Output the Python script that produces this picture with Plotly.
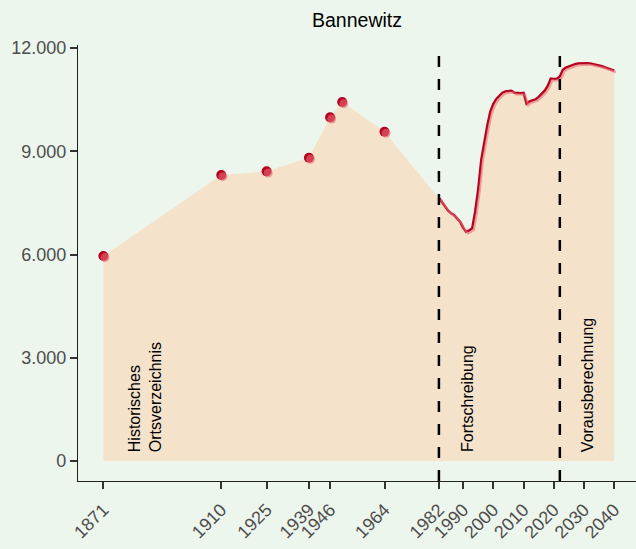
import plotly.graph_objects as go

# ---- data ----
hist_years = [1871, 1910, 1925, 1939, 1946, 1950, 1964]
hist_pop = [5956, 8309, 8416, 8812, 9985, 10430, 9567]

fort_years = list(range(1982, 2023))
fort_pop = [7650, 7520, 7420, 7280, 7200, 7150, 7050, 6950, 6780, 6660,
            6700, 6760, 7250, 7900, 8750, 9300, 9750, 10150, 10380, 10520,
            10600, 10700, 10740, 10750, 10760, 10700, 10690, 10690, 10700, 10380,
            10450, 10480, 10510, 10580, 10680, 10760, 10900, 11110, 11100, 11110,
            11170]

proj_years = list(range(2023, 2041))
proj_pop = [11370, 11430, 11470, 11510, 11530, 11550, 11560, 11565, 11560, 11553,
            11535, 11515, 11495, 11470, 11440, 11410, 11375, 11345]

x_tick_vals = [1871, 1910, 1925, 1939, 1946, 1964, 1982, 1990, 2000, 2010, 2020, 2030, 2040]
x_tick_text = [str(v) for v in x_tick_vals]
y_tick_vals = [0, 3000, 6000, 9000, 12000]
y_tick_text = ["0", "3.000", "6.000", "9.000", "12.000"]

period_breaks = [1982, 2022]
period_labels = ["Historisches<br>Ortsverzeichnis", "Fortschreibung", "Vorausberechnung"]
period_label_x = [1884.8, 1991.4, 2031]

title = "Bannewitz"

# ---- styling ----
BG = "#edf6ec"
FILL = "#f5e2cb"
DARK = "#b5001e"
LIGHT = "rgba(232,110,118,0.6)"
FONT = "Liberation Sans, Arial, sans-serif"

x_range = [1862.6, 2047.2]
y_range = [-581, 12087]
px_per_year = 3.024
px_per_unit = 0.034417
dx = 1.6 / px_per_year
dy = 1.6 / px_per_unit

all_years = hist_years + fort_years + proj_years
all_pop = hist_pop + fort_pop + proj_pop
line_years = fort_years + proj_years
line_pop = fort_pop + proj_pop

fig = go.Figure()

# area
fig.add_trace(go.Scatter(x=all_years, y=all_pop, mode="lines", fill="tozeroy",
                         fillcolor=FILL, line=dict(width=0, color=FILL),
                         hoverinfo="skip", showlegend=False))

# dark line
fig.add_trace(go.Scatter(x=line_years, y=line_pop, mode="lines",
                         line=dict(color=DARK, width=2.4),
                         showlegend=False))
# light shadow line (shifted axes)
fig.add_trace(go.Scatter(x=line_years, y=line_pop, mode="lines",
                         line=dict(color=LIGHT, width=2.2),
                         xaxis="x2", yaxis="y2", showlegend=False))

# points
fig.add_trace(go.Scatter(x=hist_years, y=hist_pop, mode="markers",
                         marker=dict(color=DARK, size=10, line=dict(width=0)),
                         showlegend=False))
fig.add_trace(go.Scatter(x=hist_years, y=hist_pop, mode="markers",
                         marker=dict(color=LIGHT, size=9, line=dict(width=0)),
                         xaxis="x2", yaxis="y2", showlegend=False))

# dashed period lines
for b in period_breaks:
    fig.add_shape(type="line", xref="x", yref="paper", x0=b, x1=b, y0=0, y1=1,
                  line=dict(color="black", width=2.5, dash="11px,12px"), layer="above")

# period labels
for lx, lt in zip(period_label_x, period_labels):
    fig.add_annotation(x=lx, y=200, xref="x", yref="y", text=lt, textangle=-90,
                       showarrow=False, xanchor="center", yanchor="bottom", align="left",
                       font=dict(family=FONT, size=16, color="black"))

axis_common = dict(showgrid=False, zeroline=False, showline=True, linecolor="#222222",
                   linewidth=1.3, ticks="outside", ticklen=7, tickwidth=2,
                   tickcolor="#333333", tickfont=dict(family=FONT, size=18, color="#4d4d4d"),
                   automargin=False, fixedrange=True)

fig.update_layout(
    width=636, height=549,
    margin=dict(l=78, r=0, t=45, b=68),
    paper_bgcolor=BG, plot_bgcolor=BG,
    title=dict(text=title, x=0.5, xref="paper", y=1 - 20.5 / 549, yref="container",
               xanchor="center", yanchor="middle",
               font=dict(family=FONT, size=19.5, color="black")),
    xaxis=dict(range=x_range, tickvals=x_tick_vals, ticktext=x_tick_text,
               tickangle=-45, ticklabelstandoff=3, **axis_common),
    yaxis=dict(range=y_range, tickvals=y_tick_vals, ticktext=y_tick_text, **axis_common),
    xaxis2=dict(range=[x_range[0] - dx, x_range[1] - dx], overlaying="x", visible=False,
                fixedrange=True),
    yaxis2=dict(range=[y_range[0] + dy, y_range[1] + dy], overlaying="y", visible=False,
                fixedrange=True),
    showlegend=False,
)

post = ("document.body.style.margin='0';document.body.style.padding='0';"
        "document.body.style.background='%s';"
        "document.documentElement.style.background='%s';" % (BG, BG))

fig.write_html("out.html", post_script=post, config={"displayModeBar": False})
